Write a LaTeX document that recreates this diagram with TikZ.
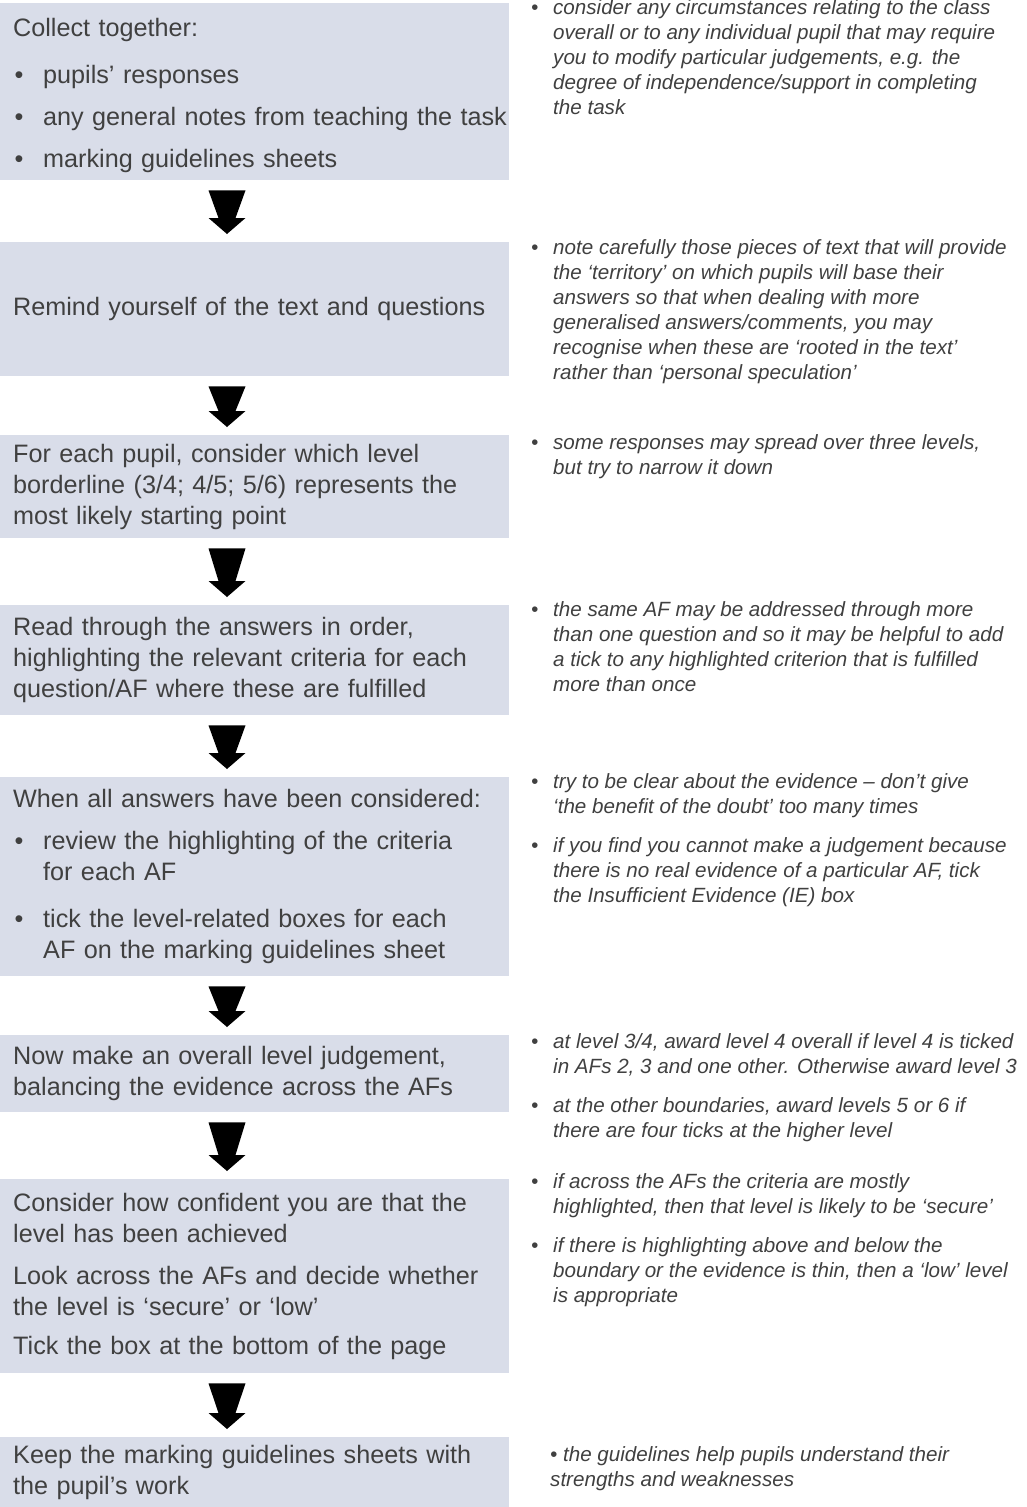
\documentclass[tikz,border=0pt]{standalone}
\usepackage{fontspec}
\setmainfont{Liberation Sans}
\usetikzlibrary{calc,positioning}

\definecolor{boxfill}{RGB}{217,221,233}
\definecolor{inkgray}{RGB}{64,64,64}

\newcommand{\boxfont}{\fontsize{25.2}{31}\selectfont}
\newcommand{\notefont}{\fontsize{20.6}{25}\selectfont\itshape}
\newcommand{\lbul}{\makebox[30pt][l]{\hspace{1.5pt}\textbullet}}
\newcommand{\lind}{\hspace*{30pt}}
\newcommand{\rbul}{\makebox[22pt][l]{\textbullet}}
\newcommand{\rind}{\hspace*{22pt}}
% block arrow from the bottom of one box to the top of the next
\newcommand{\flowarrow}[2]{%
  \fill[black] ($(#1.south west)+(208.5,10)$) -- ++(37,0)
    -- ($(#2.north west)+(235.5,-24)$) -- ++(10,0) -- ++(-18.5,16)
    -- ++(-18.5,-16) -- ++(10,0) -- cycle;}

\tikzset{
  stepbox/.style={fill=boxfill, anchor=north west, inner xsep=0pt, inner ysep=0pt,
    text width=509pt, minimum width=509pt, align=left, font=\boxfont, text=inkgray,
    execute at begin node={\leftskip=13pt\rightskip=-12pt plus 1fil\hyphenpenalty=10000}},
  note/.style={anchor=north west, inner sep=0pt, align=left, font=\notefont, text=inkgray}
}

\begin{document}
\begin{tikzpicture}[x=1pt,y=-1pt]
  \useasboundingbox (0,0) rectangle (1026,1507);

  % steps
  \node[stepbox, minimum height=177pt] (b1) at (0,3) {\rule{0pt}{26pt}Collect together:\\[16pt]
    \lbul pupils’ responses\\[11pt]
    \lbul any general notes from teaching the task\\[11pt]
    \lbul marking guidelines sheets};
  \node[stepbox, minimum height=134pt] (b2) at (0,242) {Remind yourself of the text and questions};
  \node[stepbox, minimum height=103pt] (b3) at (0,435) {For each pupil, consider which level\\
    borderline (3/4; 4/5; 5/6) represents the\\ most likely starting point};
  \node[stepbox, minimum height=110pt] (b4) at (0,605) {Read through the answers in order,\\
    highlighting the relevant criteria for each\\ question/AF where these are fulfilled};
  \node[stepbox, minimum height=199pt] (b5) at (0,777) {When all answers have been considered:\\[11pt]
    \lbul review the highlighting of the criteria\\ \lind for each AF\\[16pt]
    \lbul tick the level-related boxes for each\\ \lind AF on the marking guidelines sheet};
  \node[stepbox, minimum height=77pt] (b6) at (0,1035) {Now make an overall level judgement,\\
    balancing the evidence across the AFs};
  \node[stepbox, minimum height=194pt] (b7) at (0,1179) {Consider how confident you are that the\\
    level has been achieved\\[11pt]
    Look across the AFs and decide whether\\ the level is ‘secure’ or ‘low’\\[8pt]
    Tick the box at the bottom of the page};
  \node[stepbox, minimum height=70pt] (b8) at (0,1437) {Keep the marking guidelines sheets with\\
    the pupil’s work};

  \flowarrow{b1}{b2}
  \flowarrow{b2}{b3}
  \flowarrow{b3}{b4}
  \flowarrow{b4}{b5}
  \flowarrow{b5}{b6}
  \flowarrow{b6}{b7}
  \flowarrow{b7}{b8}

  % notes
  \node[note] (n1) at (531,-1) {\rbul consider any circumstances relating to the class\\
    \rind overall or to any individual pupil that may require\\
    \rind you to modify particular judgements, e.g. the\\
    \rind degree of independence/support in completing\\
    \rind the task};
  \node[note] (n2) at (531,239) {\rbul note carefully those pieces of text that will provide\\
    \rind the ‘territory’ on which pupils will base their\\
    \rind answers so that when dealing with more\\
    \rind generalised answers/comments, you may\\
    \rind recognise when these are ‘rooted in the text’\\
    \rind rather than ‘personal speculation’};
  \node[note] (n3) at (531,434) {\rbul some responses may spread over three levels,\\
    \rind but try to narrow it down};
  \node[note] (n4) at (531,601) {\rbul the same AF may be addressed through more\\
    \rind than one question and so it may be helpful to add\\
    \rind a tick to any highlighted criterion that is fulfilled\\
    \rind more than once};
  \node[note] (n5) at (531,773) {\rbul try to be clear about the evidence – don’t give\\
    \rind ‘the benefit of the doubt’ too many times\\[14pt]
    \rbul if you find you cannot make a judgement because\\
    \rind there is no real evidence of a particular AF, tick\\
    \rind the Insufficient Evidence (IE) box};
  \node[note] (n6) at (531,1033) {\rbul at level 3/4, award level 4 overall if level 4 is ticked\\
    \rind in AFs 2, 3 and one other. Otherwise award level 3\\[14pt]
    \rbul at the other boundaries, award levels 5 or 6 if\\
    \rind there are four ticks at the higher level};
  \node[note] (n7) at (531,1173) {\rbul if across the AFs the criteria are mostly\\
    \rind highlighted, then that level is likely to be ‘secure’\\[14pt]
    \rbul if there is highlighting above and below the\\
    \rind boundary or the evidence is thin, then a ‘low’ level\\
    \rind is appropriate};
  \node[note] (n8) at (550,1446) {\textbullet{} the guidelines help pupils understand their\\
    strengths and weaknesses};
\end{tikzpicture}
\end{document}
